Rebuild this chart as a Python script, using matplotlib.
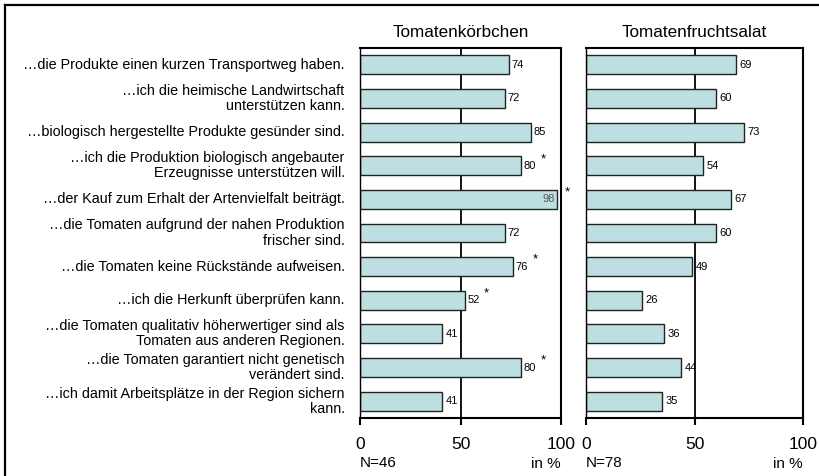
import matplotlib
matplotlib.use("Agg")
import matplotlib.pyplot as plt
from matplotlib.lines import Line2D

plt.rcParams['font.family'] = ['Liberation Sans', 'DejaVu Sans']

# Data
labels = [
    "…die Produkte einen kurzen Transportweg haben.",
    "…ich die heimische Landwirtschaft\nunterstützen kann.",
    "…biologisch hergestellte Produkte gesünder sind.",
    "…ich die Produktion biologisch angebauter\nErzeugnisse unterstützen will.",
    "…der Kauf zum Erhalt der Artenvielfalt beiträgt.",
    "…die Tomaten aufgrund der nahen Produktion\nfrischer sind.",
    "…die Tomaten keine Rückstände aufweisen.",
    "…ich die Herkunft überprüfen kann.",
    "…die Tomaten qualitativ höherwertiger sind als\nTomaten aus anderen Regionen.",
    "…die Tomaten garantiert nicht genetisch\nverändert sind.",
    "…ich damit Arbeitsplätze in der Region sichern\nkann.",
]
koerbchen = [74, 72, 85, 80, 98, 72, 76, 52, 41, 80, 41]
koerbchen_sig = [False, False, False, True, True, False, True, True, False, True, False]
fruchtsalat = [69, 60, 73, 54, 67, 60, 49, 26, 36, 44, 35]
fruchtsalat_sig = [False] * 11
titles = ["Tomatenkörbchen", "Tomatenfruchtsalat"]
n_labels = ["N=46", "N=78"]

bar_color = "#bddfe2"

fig = plt.figure(figsize=(8.19, 4.76), dpi=100)

# frame lines around the figure (top and left)
fig.add_artist(Line2D([5 / 819, 1], [1 - 5 / 476, 1 - 5 / 476], color="black", lw=1.6))
fig.add_artist(Line2D([5 / 819, 5 / 819], [0, 1 - 5 / 476], color="black", lw=1.6))

ax1 = fig.add_axes([360 / 819, 58 / 476, 201 / 819, 370 / 476])
ax2 = fig.add_axes([586 / 819, 58 / 476, 217 / 819, 370 / 476])

y = list(range(len(labels)))

for ax, vals, sig, title, nlab in [(ax1, koerbchen, koerbchen_sig, titles[0], n_labels[0]),
                                   (ax2, fruchtsalat, fruchtsalat_sig, titles[1], n_labels[1])]:
    ax.axvline(50, color="black", lw=1.3, zorder=0)
    ax.barh(y, vals, height=0.56, color=bar_color, edgecolor="#222222", lw=1.0, zorder=2)
    ax.set_xlim(0, 100)
    ax.set_ylim(len(labels) - 0.5, -0.5)
    ax.set_yticks([])
    ax.set_xticks([0, 50, 100])
    ax.tick_params(axis="x", length=5, width=1.5, pad=9, labelsize=12.5)
    for s in ax.spines.values():
        s.set_linewidth(1.5)
    ax.spines["left"].set_linewidth(1.0)
    ax.set_title(title, fontsize=12.3, pad=8)
    for i, v in enumerate(vals):
        if v >= 95:
            ax.text(v - 1, i, str(v), ha="right", va="center", fontsize=8, color="#555555", zorder=3)
            sx = 103
        else:
            ax.text(v + 1.5, i, str(v), ha="left", va="center", fontsize=8, zorder=3)
            sx = v + 11
        if sig[i]:
            ax.text(sx, i - 0.2, "*", ha="center", va="center", fontsize=9.5, clip_on=False)
    ax.annotate(nlab, xy=(0, 0), xycoords="axes fraction", xytext=(0, -32.5),
                textcoords="offset points", ha="left", va="center", fontsize=11)
    ax.annotate("in %", xy=(1, 0), xycoords="axes fraction", xytext=(0, -33),
                textcoords="offset points", ha="right", va="center", fontsize=11)

for i, lab in enumerate(labels):
    ax1.annotate(lab, xy=(0, i), xycoords=("axes fraction", "data"), xytext=(-11, 0),
                 textcoords="offset points", ha="right", va="center",
                 multialignment="right", fontsize=10.4, linespacing=1.1)

fig.savefig("out.png", dpi=100)
